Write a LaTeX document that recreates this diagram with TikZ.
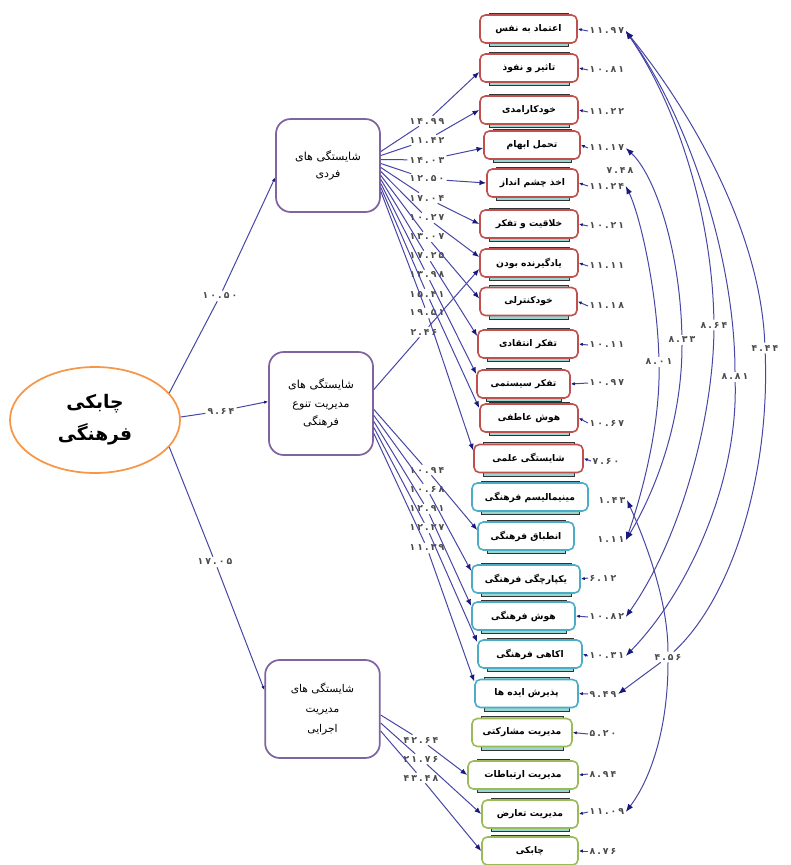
\documentclass[tikz,border=0pt]{standalone}
\usepackage{fontspec}
\newfontfamily\arabicfont[Script=Arabic]{DejaVu Sans}
\newfontfamily\numfont[LetterSpace=22]{DejaVu Sans}
\TeXXeTstate=1
\usetikzlibrary{arrows.meta,calc,shapes.geometric}
\newcommand{\fanum}[1]{{\numfont #1}}
\definecolor{pathc}{RGB}{70,70,165}
\definecolor{tipc}{RGB}{25,25,125}
\definecolor{redb}{RGB}{192,80,77}
\definecolor{blueb}{RGB}{75,172,198}
\definecolor{greenb}{RGB}{155,187,89}
\definecolor{purpb}{RGB}{128,100,162}
\definecolor{orangeb}{RGB}{247,150,70}
\definecolor{numc}{RGB}{75,75,75}
\definecolor{shadowfill}{RGB}{150,215,210}
\newcommand{\indbox}[6]{%
  \filldraw[fill=shadowfill,draw=black!80,line width=0.6pt] (#2-#4/2+9,#3-16) rectangle (#2+#4/2-9,#3+17.5);
  \node[ind,draw=#5,minimum width=#4*0.75pt] (#1) at (#2,#3) {\arabicfont #6};}
\begin{document}
\begin{tikzpicture}[x=0.75pt,y=-0.75pt,
  ind/.style={rounded corners=4pt,line width=1.2pt,fill=white,minimum height=21pt,inner sep=1pt,font=\bfseries\fontsize{6.9}{7}\selectfont},
  lat/.style={draw=purpb,rounded corners=11pt,line width=1.3pt,fill=white,align=center,inner sep=2pt},
  num/.style={text=numc,font=\bfseries\fontsize{7}{8}\selectfont,inner sep=1pt},
  lbl/.style={num,inner sep=1.5pt},
  ln/.style={draw=pathc,line width=0.75pt},
  ld/.style={ln,-{Latex[length=5pt,width=4pt,color=tipc]}},
  lds/.style={ln,-{Latex[length=3pt,width=2.5pt,color=tipc]}},
  cove/.style={ln,-{Latex[length=6pt,width=4.5pt,color=tipc]}},
  covs/.style={ln,{Latex[length=6pt,width=4.5pt,color=tipc]}-}
]
\useasboundingbox (0,0) rectangle (791,865);

% latent nodes
\node[ellipse,draw=orangeb,line width=1.3pt,minimum width=127.5pt,minimum height=79.5pt,align=center,
      font=\bfseries\fontsize{14}{24}\selectfont] (ell) at (95,420) {\arabicfont\beginR چابکی\endR\\\arabicfont\beginR فرهنگی\endR};
\node[lat,minimum width=78pt,minimum height=69.75pt,font=\fontsize{8.3}{12.75}\selectfont] (n1) at (328,165.5) {\arabicfont\beginR شایستگی های\endR\\\arabicfont\beginR فردی\endR};
\node[lat,minimum width=78pt,minimum height=77.25pt,font=\fontsize{8.3}{14}\selectfont] (n2) at (321,403.5) {\arabicfont\beginR شایستگی های\endR\\\arabicfont\beginR مدیریت تنوع\endR\\\arabicfont\beginR فرهنگی\endR};
\node[lat,minimum width=86pt,minimum height=73.5pt,font=\fontsize{8}{15}\selectfont] (n3) at (322.5,709) {\arabicfont\beginR شایستگی های\endR\\\arabicfont\beginR مدیریت\endR\\\arabicfont\beginR اجرایی\endR};

% indicator boxes
\indbox{b1}{528.5}{29}{97}{redb}{\beginR اعتماد به نفس\endR}
\indbox{b2}{529}{68}{98}{redb}{\beginR تاثیر و نفوذ\endR}
\indbox{b3}{529}{110}{98}{redb}{\beginR خودکارامدی\endR}
\indbox{b4}{532}{145}{96}{redb}{\beginR تحمل ابهام\endR}
\indbox{b5}{532.5}{183}{91}{redb}{\beginR اخذ چشم انداز\endR}
\indbox{b6}{529}{224}{98}{redb}{\beginR خلاقیت و تفکر\endR}
\indbox{b7}{529}{263}{98}{redb}{\beginR یادگیرنده بودن\endR}
\indbox{b8}{528.5}{301.5}{97}{redb}{\beginR خودکنترلی\endR}
\indbox{b9}{528}{344}{100}{redb}{\beginR تفکر انتقادی\endR}
\indbox{b10}{523.5}{384}{93}{redb}{\beginR تفکر سیستمی\endR}
\indbox{b11}{529}{418}{98}{redb}{\beginR هوش عاطفی\endR}
\indbox{b12}{528.5}{458.5}{109}{redb}{\beginR شایستگی علمی\endR}
\indbox{b13}{530}{497}{116}{blueb}{\beginR مینیمالیسم فرهنگی\endR}
\indbox{b14}{526}{536}{96}{blueb}{\beginR انطباق فرهنگی\endR}
\indbox{b15}{526}{579}{108}{blueb}{\beginR یکپارچگی فرهنگی\endR}
\indbox{b16}{523.5}{616}{103}{blueb}{\beginR هوش فرهنگی\endR}
\indbox{b17}{530}{654}{104}{blueb}{\beginR اکاهی فرهنگی\endR}
\indbox{b18}{526.5}{693.5}{103}{blueb}{\beginR پذیرش ایده ها\endR}
\indbox{b19}{522}{732.5}{100}{greenb}{\beginR مدیریت مشارکتی\endR}
\indbox{b20}{523}{775}{110}{greenb}{\beginR مدیریت ارتباطات\endR}
\indbox{b21}{530}{814}{96}{greenb}{\beginR مدیریت تعارض\endR}
\indbox{b22}{530}{851}{96}{greenb}{\beginR چابکی\endR}

% error values
\node[num,anchor=west] (e1) at (588,31) {\fanum{۱۱.۹۷}};
\node[num,anchor=west] (e2) at (588,70) {\fanum{۱۰.۸۱}};
\node[num,anchor=west] (e3) at (588,112) {\fanum{۱۱.۲۲}};
\node[num,anchor=west] (e4) at (588,148) {\fanum{۱۱.۱۷}};
\node[num,anchor=west] (e5) at (588,186) {\fanum{۱۱.۲۴}};
\node[num,anchor=west] (e6) at (588,226) {\fanum{۱۰.۲۱}};
\node[num,anchor=west] (e7) at (588,266) {\fanum{۱۱.۱۱}};
\node[num,anchor=west] (e8) at (588,306) {\fanum{۱۱.۱۸}};
\node[num,anchor=west] (e9) at (588,345) {\fanum{۱۰.۱۱}};
\node[num,anchor=west] (e10) at (588,383) {\fanum{۱۰.۹۷}};
\node[num,anchor=west] (e11) at (588,423) {\fanum{۱۰.۶۷}};
\node[num,anchor=west] (e12) at (591,461) {\fanum{۷.۶۰}};
\node[num,anchor=west] (e13) at (597,500) {\fanum{۱.۴۳}};
\node[num,anchor=west] (e14) at (596,540) {\fanum{۱.۱۱}};
\node[num,anchor=west] (e15) at (588,578) {\fanum{۶.۱۲}};
\node[num,anchor=west] (e16) at (588,617) {\fanum{۱۰.۸۲}};
\node[num,anchor=west] (e17) at (588,656) {\fanum{۱۰.۳۱}};
\node[num,anchor=west] (e18) at (588,694) {\fanum{۹.۴۹}};
\node[num,anchor=west] (e19) at (588,734) {\fanum{۵.۲۰}};
\node[num,anchor=west] (e20) at (588,774) {\fanum{۸.۹۴}};
\node[num,anchor=west] (e21) at (588,812) {\fanum{۱۱.۰۹}};
\node[num,anchor=west] (e22) at (588,851) {\fanum{۸.۷۶}};
\foreach \i in {1,...,12,15,16,17,18,19,20,21,22}{\draw[lds] (e\i.west) -- (b\i.east);}

% loading labels
\node[lbl] (L1) at (427,121) {\fanum{۱۴.۹۹}};
\node[lbl] (L2) at (427,140) {\fanum{۱۱.۴۲}};
\node[lbl] (L3) at (427,160) {\fanum{۱۴.۰۳}};
\node[lbl] (L4) at (427,179) {\fanum{۱۲.۵۰}};
\node[lbl] (L5) at (427,198) {\fanum{۱۷.۰۴}};
\node[lbl] (L6) at (427,218) {\fanum{۱۰.۲۷}};
\node[lbl] (L7) at (427,237) {\fanum{۱۳.۰۷}};
\node[lbl] (L8) at (427,256) {\fanum{۱۷.۲۵}};
\node[lbl] (L9) at (427,275) {\fanum{۱۳.۹۸}};
\node[lbl] (L10) at (427,294) {\fanum{۱۵.۴۱}};
\node[lbl] (L11) at (427,313) {\fanum{۱۹.۵۱}};
\node[lbl] (L12) at (424,332) {\fanum{۲.۴۶}};
\node[lbl] (M1) at (427,470) {\fanum{۱۰.۹۴}};
\node[lbl] (M2) at (427,489) {\fanum{۱۰.۶۸}};
\node[lbl] (M3) at (427,509) {\fanum{۱۲.۹۱}};
\node[lbl] (M4) at (427,528) {\fanum{۱۲.۲۷}};
\node[lbl] (M5) at (427,548) {\fanum{۱۱.۳۹}};
\node[lbl] (N1) at (421,740) {\fanum{۴۲.۶۴}};
\node[lbl] (N2) at (421,759) {\fanum{۲۱.۷۶}};
\node[lbl] (N3) at (421,778) {\fanum{۴۳.۴۸}};
\node[lbl] (K1) at (220,296) {\fanum{۱۰.۵۰}};
\node[lbl] (K2) at (221,411) {\fanum{۹.۶۴}};
\node[lbl] (K3) at (215,562) {\fanum{۱۷.۰۵}};
\node[lbl] (C1) at (714,325) {\fanum{۸.۶۴}};
\node[lbl] (C2) at (765,348) {\fanum{۴.۴۴}};
\node[lbl] (C3) at (735,377) {\fanum{۸.۸۱}};
\node[lbl] (C4) at (682,340) {\fanum{۸.۳۳}};
\node[lbl] (C5) at (659,362) {\fanum{۸.۰۱}};
\node[lbl] (C6) at (620,170) {\fanum{۷.۴۸}};
\node[lbl] (C7) at (668,657) {\fanum{۴.۵۶}};

% ellipse to latent
\draw[lds] (ell.20) -- (K1) -- ($(n1.west)+(0,12)$);
\draw[lds] (ell.2) -- (K2) -- ($(n2.west)+(0,-2)$);
\draw[lds] (ell.-20) -- (K3) -- ($(n3.west)+(0,-19)$);

% node1 loadings
\draw[ld] ($(n1.east)+(0,-14)$) -- (L1) -- ($(b2.west)+(0,4)$);
\draw[ld] ($(n1.east)+(0,-10)$) -- (L2) -- (b3.west);
\draw[ld] ($(n1.east)+(0,-6)$) -- (L3) -- ($(b4.west)+(0,3)$);
\draw[ld] ($(n1.east)+(0,-2)$) -- (L4) -- (b5.west);
\draw[ld] ($(n1.east)+(0,2)$) -- (L5) -- (b6.west);
\draw[ld] ($(n1.east)+(0,6)$) -- (L6) -- ($(b7.west)+(0,-6)$);
\draw[ld] ($(n1.east)+(0,10)$) -- (L7) -- ($(b8.west)+(0,-3)$);
\draw[ld] ($(n1.east)+(0,14)$) -- (L8) -- ($(b9.west)+(0,-8)$);
\draw[ld] ($(n1.east)+(0,18)$) -- (L9) -- ($(b10.west)+(0,-10)$);
\draw[ld] ($(n1.east)+(0,22)$) -- (L10) -- ($(b11.west)+(0,-10)$);
\draw[ld] ($(n1.east)+(0,26)$) -- (L11) -- ($(b12.west)+(0,-8)$);
% node2 loadings
\draw[ld] ($(n2.east)+(0,-14)$) -- (L12) -- ($(b7.west)+(0,6)$);
\draw[ld] ($(n2.east)+(0,6)$) -- (M1) -- ($(b14.west)+(0,-6)$);
\draw[ld] ($(n2.east)+(0,12)$) -- (M2) -- ($(b15.west)+(0,-8)$);
\draw[ld] ($(n2.east)+(0,18)$) -- (M3) -- ($(b16.west)+(0,-10)$);
\draw[ld] ($(n2.east)+(0,24)$) -- (M4) -- ($(b17.west)+(0,-12)$);
\draw[ld] ($(n2.east)+(0,30)$) -- (M5) -- ($(b18.west)+(0,-12)$);
% node3 loadings
\draw[ld] ($(n3.east)+(0,6)$) -- (N1) -- (b20.west);
\draw[ld] ($(n3.east)+(0,14)$) -- (N2) -- (b21.west);
\draw[ld] ($(n3.east)+(0,22)$) -- (N3) -- (b22.west);

% covariances
\draw[covs] (e1.east) .. controls (680,110) and (712,220) .. (C1);
\draw[cove] (C1) .. controls (713,420) and (680,540) .. (e16.east);
\draw[covs] (e1.east) .. controls (690,110) and (760,230) .. (C2);
\draw[ln] (C2) .. controls (770,480) and (730,600) .. (C7);
\draw[cove] (C7) -- (e18.east);
\draw[covs] (e1.east) .. controls (690,120) and (735,260) .. (C3);
\draw[cove] (C3) .. controls (738,480) and (690,590) .. (e17.east);
\draw[covs] (e4.east) .. controls (655,175) and (680,250) .. (C4);
\draw[cove] (C4) .. controls (682,430) and (650,500) .. (e14.east);
\draw[covs] (e5.east) .. controls (640,215) and (657,290) .. (C5);
\draw[cove] (C5) .. controls (660,430) and (640,500) .. (e14.east);
\draw[covs] (e13.east) .. controls (645,540) and (668,600) .. (C7);
\draw[cove] (C7) .. controls (668,730) and (650,780) .. (e21.east);
\end{tikzpicture}
\end{document}
